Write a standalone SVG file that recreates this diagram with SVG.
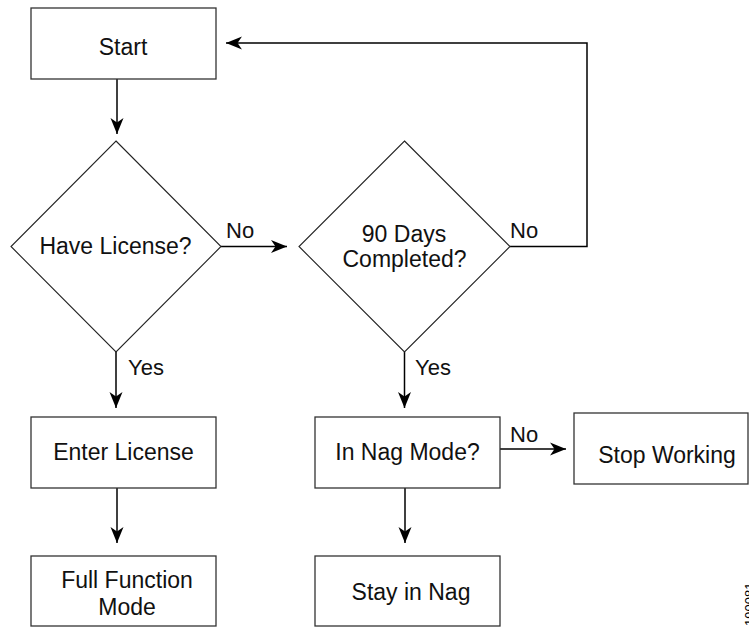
<svg xmlns="http://www.w3.org/2000/svg" width="749" height="627" viewBox="0 0 749 627">
<style>
.box{fill:#fff;stroke:#333;stroke-width:1.3}
.dia{fill:#fff;stroke:#222;stroke-width:1.1}
.t{font-family:"Liberation Sans",Arial,Helvetica,sans-serif;font-size:23px;fill:#111;text-anchor:middle}
.lbl{font-family:"Liberation Sans",Arial,Helvetica,sans-serif;font-size:22px;fill:#111}
.c{fill:none;stroke:#000;stroke-width:1.5}
.fig{font-family:"Liberation Sans",Arial,Helvetica,sans-serif;font-size:13px;fill:#000}
</style>
<defs>
<marker id="ah" viewBox="-17 -8 18 16" refX="0" refY="0" markerWidth="18" markerHeight="16" markerUnits="userSpaceOnUse" orient="auto">
<path d="M0,0 L-16,-6.5 L-11.5,0 L-16,6.5 Z" fill="#000"/>
</marker>
</defs>
<g id="connectors">
<path class="c" d="M117,79 V134" marker-end="url(#ah)"/>
<path class="c" d="M116,352 V408" marker-end="url(#ah)"/>
<path class="c" d="M221,246.5 H287" marker-end="url(#ah)"/>
<path class="c" d="M510,246.5 H587 V43 H226" marker-end="url(#ah)"/>
<path class="c" d="M404.5,352 V408" marker-end="url(#ah)"/>
<path class="c" d="M117,488 V543" marker-end="url(#ah)"/>
<path class="c" d="M405,488 V543" marker-end="url(#ah)"/>
<path class="c" d="M500,449 H566" marker-end="url(#ah)"/>
<text class="lbl" x="226" y="238">No</text>
<text class="lbl" x="128" y="375">Yes</text>
<text class="lbl" x="510" y="238">No</text>
<text class="lbl" x="415" y="375">Yes</text>
<text class="lbl" x="510" y="442">No</text>
</g>
<g id="start">
<rect class="box" x="31" y="8" width="185" height="71"/>
<text class="t" x="123" y="55">Start</text>
</g>
<g id="have-license">
<polygon class="dia" points="116,141 221,246.5 116,352 11,246.5"/>
<text class="t" x="115.5" y="254">Have License?</text>
</g>
<g id="days-completed">
<polygon class="dia" points="404.5,141 510,246.5 404.5,352 299,246.5"/>
<text class="t" x="404" y="242">90 Days</text>
<text class="t" x="404.5" y="267">Completed?</text>
</g>
<g id="enter-license">
<rect class="box" x="31" y="417" width="185" height="71"/>
<text class="t" x="123.5" y="460">Enter License</text>
</g>
<g id="full-function">
<rect class="box" x="31" y="556" width="185" height="70"/>
<text class="t" x="127" y="588">Full Function</text>
<text class="t" x="127" y="615">Mode</text>
</g>
<g id="nag-mode">
<rect class="box" x="315" y="417" width="185" height="71"/>
<text class="t" x="407.5" y="460">In Nag Mode?</text>
</g>
<g id="stay-nag">
<rect class="box" x="315" y="556" width="185" height="70"/>
<text class="t" x="411" y="600">Stay in Nag</text>
</g>
<g id="stop-working">
<rect class="box" x="574" y="413" width="174" height="71"/>
<text class="t" x="667" y="463">Stop Working</text>
</g>
<text class="fig" transform="translate(753.5,626) rotate(-90)">190081</text>
</svg>
